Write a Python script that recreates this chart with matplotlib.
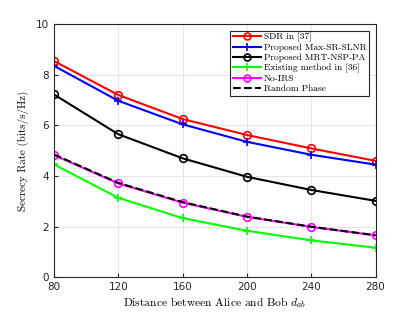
import matplotlib
matplotlib.use('Agg')
import matplotlib.pyplot as plt

plt.rcParams['mathtext.fontset'] = 'cm'

distance = [80, 120, 160, 200, 240, 280]
sdr = [8.54, 7.20, 6.25, 5.62, 5.09, 4.60]
maxSrSlnr = [8.35, 6.97, 6.04, 5.35, 4.84, 4.45]
mrtNspPa = [7.22, 5.65, 4.70, 3.97, 3.45, 3.02]
existing = [4.46, 3.14, 2.34, 1.84, 1.46, 1.17]
noIrs = [4.83, 3.71, 2.95, 2.39, 1.99, 1.66]
randomPhase = [4.85, 3.73, 2.97, 2.40, 2.00, 1.66]

fig = plt.figure(figsize=(4.15, 3.12), dpi=100)
axes = fig.add_axes([0.130, 0.111, 0.775, 0.812])

lw = 1.5
axes.plot(distance, sdr, 'r-o', lw=lw, ms=5.5, mfc='none', mew=1.2, label='SDR in [37]')
axes.plot(distance, maxSrSlnr, 'b-+', lw=lw, ms=6, mew=1.2, label='Proposed Max-SR-SLNR')
axes.plot(distance, mrtNspPa, 'k-o', lw=lw, ms=5.5, mfc='none', mew=1.2, label='Proposed MRT-NSP-PA')
axes.plot(distance, existing, '-+', color='#00ff00', lw=lw, ms=6, mew=1.2, label='Existing method in [36]')
axes.plot(distance, noIrs, '-o', color='#ff00ff', lw=lw, ms=5.5, mfc='none', mew=1.2, label='No-IRS')
axes.plot(distance, randomPhase, 'k--', lw=lw, label='Random Phase')

axes.set_xlim(80, 280)
axes.set_ylim(0, 10)
axes.set_xticks(distance)
axes.set_yticks([0, 2, 4, 6, 8, 10])
axes.grid(True, color='#e6e6e6', lw=0.8)
axes.set_axisbelow(True)
axes.tick_params(labelsize=7.5, direction='in', length=3, colors='#262626')
for s in axes.spines.values():
    s.set_color('#262626')
    s.set_linewidth(0.8)

serif = 'cmr10'
axes.set_xlabel('Distance between Alice and Bob $d_{ab}$', family=serif, fontsize=8.3, labelpad=2)
axes.set_ylabel('Secrecy Rate (bits/s/Hz)', family=serif, fontsize=7.9, labelpad=5)

leg = axes.legend(loc='upper right', prop={'family': serif, 'size': 6.8}, fancybox=False,
                  edgecolor='#262626', framealpha=1, borderaxespad=0.7, handlelength=3.0,
                  labelspacing=0.15, borderpad=0.25, handletextpad=0.3, markerscale=0.9)
leg.get_frame().set_linewidth(0.8)

fig.savefig('out.png', dpi=100)
